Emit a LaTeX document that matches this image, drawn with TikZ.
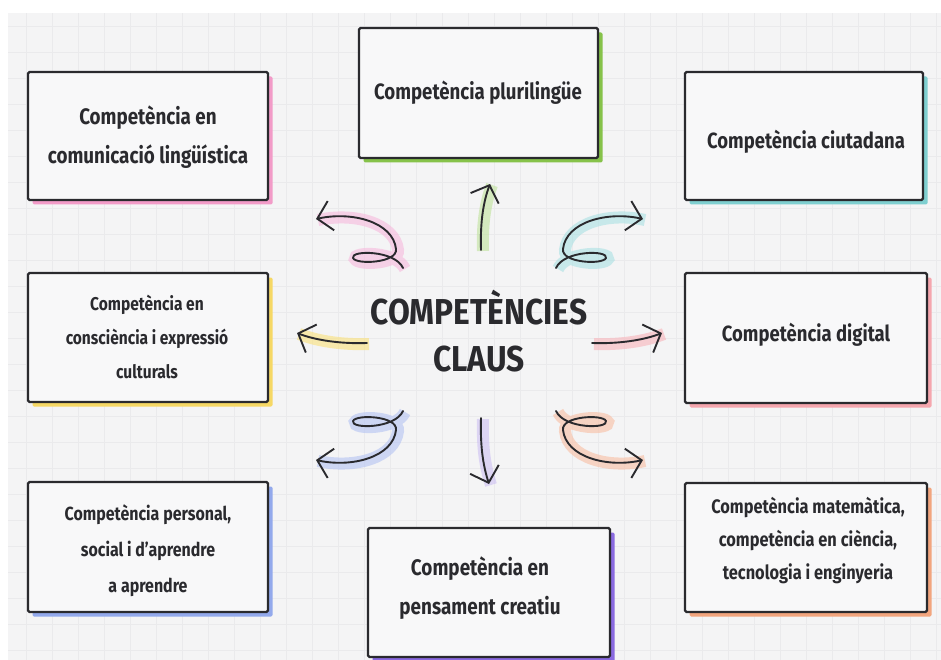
\documentclass[tikz,border=0pt]{standalone}
\usepackage{fontspec}
\usetikzlibrary{arrows.meta,shadows}
\newfontfamily\boxfont[FakeStretch=0.84]{Fira Sans}
\newfontfamily\titlefont[FakeStretch=0.88]{Fira Sans}
\definecolor{bgc}{HTML}{F4F4F5}
\definecolor{gridc}{HTML}{EAEAEC}
\definecolor{boxfill}{HTML}{F8F8F9}
\definecolor{ink}{HTML}{2A2A2E}
\definecolor{cpink}{HTML}{F29BC8}
\definecolor{cgreen}{HTML}{86C24A}
\definecolor{cteal}{HTML}{7FCFD0}
\definecolor{cyellow}{HTML}{F6D865}
\definecolor{csalmon}{HTML}{F5A6AE}
\definecolor{cblue}{HTML}{93A9EC}
\definecolor{cpurple}{HTML}{8A6AE0}
\definecolor{corange}{HTML}{F2A57E}
\definecolor{hpink}{HTML}{F7B9DC}
\definecolor{hgreen}{HTML}{BFE29B}
\definecolor{hteal}{HTML}{A9E0E3}
\definecolor{hyellow}{HTML}{F9E07A}
\definecolor{hsalmon}{HTML}{F8B3BA}
\definecolor{hblue}{HTML}{B3C3F3}
\definecolor{hpurple}{HTML}{CDBFF3}
\definecolor{horange}{HTML}{F8BDA3}
\begin{document}
\begin{tikzpicture}[x=1pt,y=-1pt,
  cbox/.style={draw=ink, line width=2.2pt, fill=boxfill, rounded corners=1.5pt,
    inner sep=0pt, drop shadow={shadow xshift=4.5pt, shadow yshift=-4.5pt, fill=#1, opacity=1}},
  ctext/.style={text=ink, align=center, inner sep=0pt},
  arr/.style={draw=ink, line width=1.9pt, line cap=round, line join=round,
    -{Straight Barb[length=14pt,width=30pt,line width=1.9pt]},
    preaction={draw=#1, line width=12pt, opacity=0.6, arrows=-, transform canvas={xshift=2pt,yshift=-1pt}}}
]
\useasboundingbox (0,0) rectangle (941,660);
\fill[white] (0,0) rectangle (941,660);
\fill[bgc] (8,13) rectangle (941,660);
\draw[gridc, line width=0.5pt, step=26pt] (8,13) grid (941,660);

% boxes
\node[cbox=cpink, minimum width=240pt, minimum height=128pt] (b1) at (148,136) {};
\node[cbox=cgreen, minimum width=239pt, minimum height=130pt] (b2) at (478.5,93) {};
\node[cbox=cteal, minimum width=238pt, minimum height=128pt] (b3) at (804,136) {};
\node[cbox=cyellow, minimum width=240pt, minimum height=129pt] (b4) at (148,337.5) {};
\node[cbox=csalmon, minimum width=242pt, minimum height=130pt] (b5) at (806,338) {};
\node[cbox=cblue, minimum width=240pt, minimum height=130pt] (b6) at (148,547) {};
\node[cbox=cpurple, minimum width=242pt, minimum height=129pt] (b7) at (489,592.5) {};
\node[cbox=corange, minimum width=242pt, minimum height=129pt] (b8) at (806,547.5) {};

% texts
\node[ctext, font=\boxfont\bfseries\fontsize{22.4}{39}\selectfont] (t1) at (148,137.5) {Competència en\\comunicació lingüística};
\node[ctext, font=\boxfont\bfseries\fontsize{22.2}{25}\selectfont] (t2) at (478,93) {Competència plurilingüe};
\node[ctext, font=\boxfont\bfseries\fontsize{22}{25}\selectfont] (t3) at (806,142) {Competència ciutadana};
\node[ctext, font=\boxfont\bfseries\fontsize{18.5}{34}\selectfont] (t4) at (147,337) {Competència en\\consciència i expressió\\culturals};
\node[ctext, font=\boxfont\bfseries\fontsize{22}{25}\selectfont] (t5) at (806,335) {Competència digital};
\node[ctext, font=\boxfont\bfseries\fontsize{19}{36}\selectfont] (t6) at (148,551) {Competència personal,\\social i d’aprendre\\a aprendre};
\node[ctext, font=\boxfont\bfseries\fontsize{22.5}{39}\selectfont] (t7) at (480,588) {Competència en\\pensament creatiu};
\node[ctext, font=\boxfont\bfseries\fontsize{19.5}{33}\selectfont] (t8) at (808,541) {Competència matemàtica,\\competència en ciència,\\tecnologia i enginyeria};

% title
\node[ctext, font=\titlefont\bfseries\fontsize{36}{47}\selectfont] (title) at (479,331) {COMPETÈNCIES\\CLAUS};

% arrow ends
\coordinate (tlTail) at (403,268);  \coordinate (tlTip) at (316,219);
\coordinate (trTail) at (556,268);  \coordinate (trTip) at (643,219);
\coordinate (blTail) at (403,411);  \coordinate (blTip) at (316,460);
\coordinate (brTail) at (556,411);  \coordinate (brTip) at (643,460);
\coordinate (upTail) at (481,250);  \coordinate (upTip) at (490,184);
\coordinate (dnTail) at (481,418);  \coordinate (dnTip) at (489,484);
\coordinate (lfTail) at (367,343);  \coordinate (lfTip) at (297,333);
\coordinate (rtTail) at (592,343);  \coordinate (rtTip) at (662,333);

% arrows
\draw[arr=hpink] (tlTail) .. controls (395,250) and (350,250) .. (353,258)
  .. controls (356,265) and (398,263) .. (396,249)
  .. controls (393,222) and (352,211) .. (tlTip);
\draw[arr=hteal] (trTail) .. controls (564,250) and (609,250) .. (606,258)
  .. controls (603,265) and (561,263) .. (563,249)
  .. controls (566,222) and (607,211) .. (trTip);
\draw[arr=hblue] (blTail) .. controls (395,429) and (350,429) .. (353,421)
  .. controls (356,414) and (398,416) .. (396,430)
  .. controls (393,457) and (352,468) .. (blTip);
\draw[arr=horange] (brTail) .. controls (564,429) and (609,429) .. (606,421)
  .. controls (603,414) and (561,416) .. (563,430)
  .. controls (566,457) and (607,468) .. (brTip);
\draw[arr=hgreen] (upTail) .. controls (480,220) and (484,200) .. (upTip);
\draw[arr=hpurple] (dnTail) .. controls (480,450) and (484,468) .. (dnTip);
\draw[arr=hyellow] (lfTail) .. controls (340,344) and (315,340) .. (lfTip);
\draw[arr=hsalmon] (rtTail) .. controls (619,344) and (644,340) .. (rtTip);
\end{tikzpicture}
\end{document}
